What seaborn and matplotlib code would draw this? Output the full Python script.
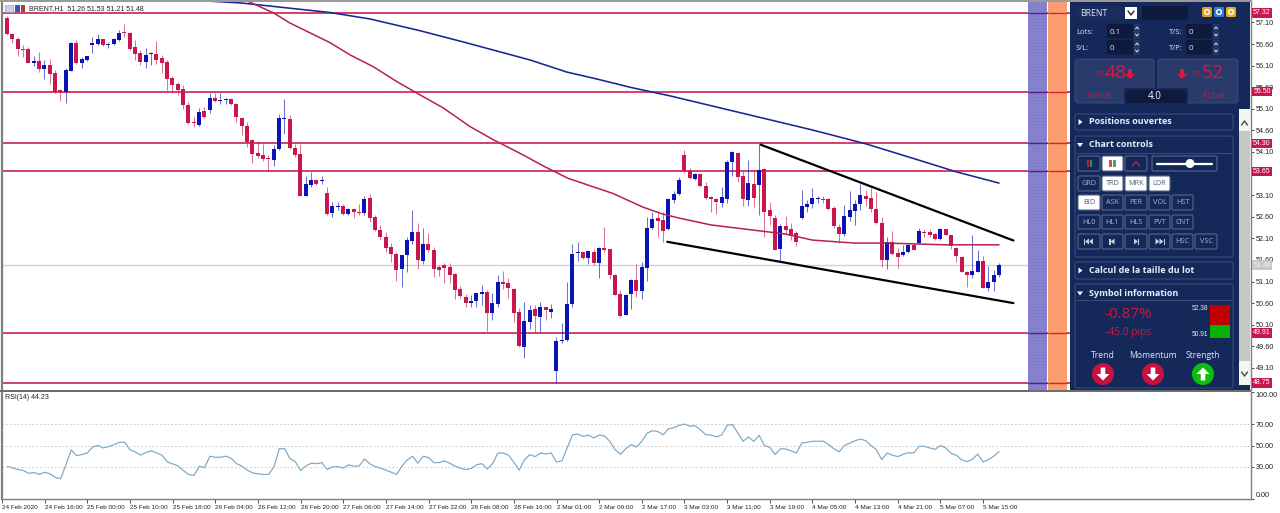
import numpy as np
import pandas as pd
import matplotlib
matplotlib.use("Agg")
import matplotlib.pyplot as plt
from matplotlib.patches import Rectangle, FancyBboxPatch, Circle, Polygon
import seaborn as sns

# ---------- data ----------
symbol_line = "BRENT,H1  51.26 51.53 51.21 51.48"
highs = [57.25,56.85,56.77,56.58,56.52,56.32,56.41,56.23,56.25,56.01,
55.57,56.04,56.65,56.69,56.29,56.33,56.77,56.83,56.72,56.64,
56.73,56.93,57.06,56.89,56.69,56.46,56.50,56.42,56.67,56.35,
56.23,55.86,55.71,55.65,55.25,54.90,55.11,55.15,55.47,55.47,
55.47,55.34,55.36,55.23,54.92,54.80,54.39,54.35,54.29,54.03,
54.26,54.98,55.33,54.96,54.29,54.29,53.55,53.63,53.47,53.54,
53.30,52.94,52.94,52.89,52.80,52.80,52.90,53.08,53.13,52.64,
52.41,52.24,52.00,51.78,51.71,52.14,52.76,52.45,52.33,52.22,
51.91,51.48,51.54,51.54,51.29,51.00,50.81,50.79,50.84,51.03,
50.90,50.83,51.25,51.34,51.17,50.96,50.48,50.62,50.56,50.56,
50.62,50.52,50.57,49.82,50.13,51.09,51.98,52.02,51.79,51.81,
51.85,51.91,52.37,51.85,51.27,50.90,50.81,51.15,51.51,51.56,
52.60,52.70,52.68,52.72,53.03,53.20,53.53,54.15,53.72,53.61,
53.61,53.41,53.07,53.03,53.28,53.92,54.12,54.09,53.65,53.92,
53.68,54.28,53.72,52.95,52.64,52.43,52.62,52.45,52.26,53.21,
52.99,53.26,53.08,53.08,53.03,52.85,52.43,52.87,53.20,52.99,
53.35,53.22,53.26,53.17,52.60,52.12,52.26,51.87,51.95,51.97,
52.00,52.35,52.32,52.32,52.22,52.35,52.32,52.18,51.91,51.68,
51.35,52.18,51.83,51.69,51.46,51.37,51.53]
lows = [56.81,56.62,56.33,56.31,56.15,56.10,55.96,55.78,55.67,55.47,
55.29,55.23,55.98,56.13,56.05,56.21,56.40,56.58,56.55,56.50,
56.58,56.66,56.77,56.46,56.23,56.11,56.05,56.11,56.13,55.92,
55.54,55.50,55.42,55.10,54.75,54.69,54.71,54.88,55.01,55.26,
55.21,55.20,55.18,54.80,54.50,54.22,53.85,53.95,53.90,53.66,
53.78,54.15,54.52,54.18,53.98,53.07,53.07,53.28,53.34,53.36,
52.64,52.59,52.76,52.64,52.64,52.56,52.64,52.64,52.49,52.27,
52.09,51.79,51.56,51.12,50.98,51.33,51.96,51.39,51.51,51.78,
51.21,51.23,51.06,51.06,50.70,50.71,50.50,50.50,50.50,50.56,
49.96,50.21,50.52,50.92,50.71,50.17,49.59,49.34,49.99,49.92,
49.94,50.22,50.25,48.74,49.67,49.73,50.52,51.58,51.63,51.51,
51.48,51.19,51.79,51.15,50.78,50.27,50.32,50.46,50.75,50.70,
51.11,52.31,52.12,52.01,52.29,52.93,53.10,53.61,53.47,53.45,
53.30,53.02,52.70,52.66,52.82,52.91,53.54,53.41,52.85,52.85,
52.83,52.64,52.14,52.41,51.82,51.56,52.20,52.06,51.93,52.54,
52.70,52.80,52.91,52.91,52.76,52.34,52.00,52.15,52.51,52.42,
52.76,52.85,52.72,52.43,51.43,51.38,51.71,51.41,51.69,51.75,
51.82,51.97,52.12,52.14,52.06,52.06,52.17,51.86,51.56,51.31,
50.98,51.19,51.31,50.94,50.88,50.89,51.21]
opens = [57.20,56.83,56.72,56.49,56.49,56.15,56.20,56.02,56.11,55.92,
55.52,55.50,55.98,56.62,56.15,56.22,56.57,56.59,56.71,56.57,
56.59,56.69,56.86,56.85,56.52,56.40,56.19,56.36,56.38,56.27,
56.18,55.82,55.67,55.55,55.19,54.79,54.72,55.06,55.07,55.34,
55.27,55.30,55.33,55.22,54.89,54.71,54.37,54.08,54.02,53.95,
53.91,54.16,54.86,54.86,54.19,54.05,53.08,53.34,53.44,53.43,
53.15,52.69,52.83,52.85,52.66,52.77,52.70,52.68,53.03,52.60,
52.29,52.13,51.89,51.74,51.39,51.71,52.04,52.24,51.58,51.97,
51.83,51.43,51.49,51.43,51.27,50.93,50.75,50.60,50.66,50.82,
50.86,50.38,50.59,51.09,51.06,50.93,50.39,49.59,50.16,50.46,
50.28,50.50,50.40,49.02,49.72,49.75,50.58,51.75,51.78,51.64,
51.78,51.54,51.88,51.85,51.26,50.80,50.32,50.80,51.14,50.88,
51.41,52.33,52.56,52.52,52.31,52.99,53.13,54.02,53.65,53.48,
53.58,53.32,53.04,53.00,52.93,53.02,53.87,54.07,53.54,52.99,
53.37,53.33,53.70,52.76,52.58,51.85,52.39,52.32,52.23,52.56,
52.83,52.90,53.00,53.00,53.00,52.81,52.36,52.20,52.60,52.73,
52.90,53.08,53.03,52.79,52.45,51.60,52.02,51.75,51.71,51.78,
51.94,51.99,52.25,52.25,52.20,52.09,52.31,52.17,51.88,51.67,
51.33,51.24,51.33,51.57,50.94,51.09,51.26]
closes = [56.83,56.71,56.49,56.46,56.17,56.21,56.02,56.11,55.91,55.49,
55.50,56.00,56.62,56.15,56.25,56.32,56.63,56.71,56.58,56.60,
56.71,56.86,56.85,56.49,56.38,56.18,56.35,56.38,56.23,56.17,
55.79,55.65,55.54,55.18,54.76,54.76,55.02,54.90,55.34,55.27,
55.30,55.33,55.21,54.90,54.70,54.34,54.06,54.01,53.93,53.93,
54.17,54.88,54.88,54.19,54.03,53.09,53.35,53.45,53.36,53.44,
52.66,52.85,52.85,52.66,52.77,52.70,52.69,53.00,52.58,52.29,
52.12,51.87,51.73,51.37,51.71,52.06,52.24,51.60,51.97,51.82,
51.40,51.37,51.42,51.26,50.91,50.76,50.60,50.64,50.83,50.86,
50.37,50.61,51.09,51.05,50.94,50.37,49.60,50.18,50.44,50.29,
50.51,50.44,50.47,49.73,49.75,50.58,51.74,51.78,51.64,51.80,
51.52,51.88,51.84,51.25,50.79,50.29,50.78,51.14,50.88,51.43,
52.34,52.55,52.51,52.28,53.01,53.13,53.45,53.65,53.49,53.59,
53.31,53.03,53.02,52.95,53.05,53.86,54.09,53.53,53.02,53.38,
53.04,53.68,52.72,52.62,51.83,52.39,52.29,52.15,52.02,52.85,
52.90,53.03,53.01,52.99,52.78,52.39,52.20,52.61,52.76,52.90,
53.10,53.02,52.78,52.45,51.60,52.02,51.74,51.67,51.78,51.94,
51.83,52.27,52.22,52.17,52.09,52.31,52.18,51.92,51.68,51.31,
51.25,51.34,51.57,50.96,51.10,51.24,51.48]
rsi = [30.6,29,27.5,26.6,24,24.7,23,25,23.5,20,19,32,46,40.5,41.5,43,48.6,50,47.7,49,
50.8,53,53,46,44,41,43.6,45,43,41,34.6,32.8,31,26.6,23,22,30.6,29.4,40,39,
39,40,38,33,30.6,27,24.4,23.5,23,23,30,47,47,37.7,35,26.6,31,33.4,33,34,
27.5,30,30.3,29,31.9,30.6,31,37.4,32.8,30.3,28.8,27,25,23,30.6,36.5,40,33.4,40,38.7,
34,34,35.6,33.4,30.6,28.8,27.5,28.5,32,33,28,33,43,43,41,34.3,27,36.8,41.5,39.6,
43,42,43,34.6,35.6,47.7,60,60.7,58.5,59.8,57,59.8,58.8,53.9,46,41.8,47,50.8,48.6,53.9,
61.6,63.8,63,60,65.6,66.6,68.8,70,68,68.4,64.7,60,59.8,58,60,68.8,69.7,61.6,53.9,58,
53.9,59.5,50,48.3,41.5,47,46.7,45,43,52.3,53,53.9,54,54,51,47,44,50,52.3,54.5,
56,54.5,50,46,36.8,43,40.9,39.6,41.8,43.3,43,49.2,49.2,47.7,46.4,50,47.7,42.7,40.9,36.5,
35,37,42,34.6,36.8,40,44.23]
blue_ma_bar = [37,44,60.6,68.1,77.4,85.5,92.4,98.1,105,110.6,116.8,124.3,151,161,171,178,186]
blue_ma = [57.60,57.55,57.33,57.18,56.91,56.65,56.42,56.23,55.95,55.79,55.60,55.40,54.61,54.29,53.91,53.64,53.38]
red_ma_bar = [45,50,53,60.6,64.3,68.6,73.1,76.9,81.8,86.8,91.1,96.8,100.5,105.2,113.6,119.3,123,126,132,140,146,151,159,165,176,186]
red_ma = [57.60,57.32,57.09,56.63,56.35,56.08,55.73,55.46,55.12,54.69,54.39,54.03,53.78,53.49,53.14,52.82,52.66,52.57,52.41,52.29,52.20,52.06,51.99,51.99,51.95,51.95]
trend_upper_bar, trend_upper = [141.3,188.7], [54.27,52.05]
trend_lower_bar, trend_lower = [123.8,188.7], [52.02,50.60]
levels = [57.32,55.50,54.30,53.65,49.91,48.75]
level_labels = ["57.32","55.50","54.30","53.65","49.91","48.75"]
bid = 51.48
price_ticks = [57.10,56.60,56.10,55.60,55.10,54.60,54.10,53.60,53.10,52.60,52.10,51.60,51.10,50.60,50.10,49.60,49.10]
price_tick_labels = ["57.10","56.60","56.10","55.60","55.10","54.60","54.10","","53.10","52.60","52.10","51.60","51.10","50.60","50.10","49.60","49.10"]
rsi_ticks = [100,70,50,30,0]
rsi_labels = ["100.00","70.00","50.00","30.00","0.00"]
rsi_title = "RSI(14) 44.23"
time_tick_bars = list(range(-1,184,8))
time_labels = ["24 Feb 2020","24 Feb 16:00","25 Feb 00:00","25 Feb 10:00","25 Feb 18:00","26 Feb 04:00",
"26 Feb 12:00","26 Feb 20:00","27 Feb 06:00","27 Feb 14:00","27 Feb 22:00","28 Feb 08:00","28 Feb 16:00",
"2 Mar 01:00","2 Mar 09:00","2 Mar 17:00","3 Mar 03:00","3 Mar 11:00","3 Mar 19:00","4 Mar 05:00",
"4 Mar 13:00","4 Mar 21:00","5 Mar 07:00","5 Mar 15:00"]

# ---------- style ----------
sns.set_theme(style="white")
plt.rcParams["font.family"] = ["Liberation Sans", "DejaVu Sans"]
RED = "#c8174a"; BLUE = "#0a14b4"; GREY = "#7f7f7f"
W, H = 1280, 513
fig = plt.figure(figsize=(W/100, H/100), dpi=100, facecolor="white")

def axes_px(x0, y0, x1, y1, **kw):
    return fig.add_axes([x0/W, 1-y1/H, (x1-x0)/W, (y1-y0)/H], **kw)

BAR = 16/3
def px2bar(px):
    return (px-7)/BAR

df = pd.DataFrame({"bar": np.arange(len(closes)), "o": opens, "h": highs, "l": lows, "c": closes, "rsi": rsi})
df["up"] = df.c > df.o

# ---------- main price pane ----------
ax = axes_px(2, 1, 1251, 390)
ax.set_xlim(px2bar(2), px2bar(1251))
ax.set_ylim(57.62-390*0.02316, 57.62-1*0.02316)
ax.hlines(levels, px2bar(2), px2bar(1070), color=RED, lw=1.15, zorder=2)
ax.hlines(bid, px2bar(2), px2bar(1028), color="#d2d2d2", lw=1.0, zorder=1)
ax.axvspan(px2bar(1028), px2bar(1046.5), color="#807dcc", lw=0, zorder=3)
ax.axvspan(px2bar(1048), px2bar(1067), color="#fb9a6c", lw=0, zorder=3)
ax.hlines(levels, px2bar(1028), px2bar(1046.5), color="#5a1c8c", lw=1.0, zorder=4)
ax.hlines(levels, px2bar(1048), px2bar(1067), color="#d8232a", lw=1.0, zorder=4)
stripes = np.arange(ax.get_ylim()[0], ax.get_ylim()[1], 3*0.02316)
ax.hlines(stripes, px2bar(1028), px2bar(1046.5), color="#9a98d8", lw=0.35, zorder=3.5)
ax.hlines(stripes, px2bar(1048), px2bar(1067), color="#fcb08c", lw=0.35, zorder=3.5)

for up, col in [(True, BLUE), (False, RED)]:
    d = df[df.up == up]
    ax.vlines(d.bar, d.l, d.h, color=col, lw=0.75, alpha=0.6, zorder=5)
    bottom = d[["o", "c"]].min(axis=1)
    height = (d.o - d.c).abs().clip(lower=0.03)
    ax.bar(d.bar, height, bottom=bottom, width=0.7, color=col, lw=0, zorder=6)

sns.lineplot(x=blue_ma_bar, y=blue_ma, ax=ax, color="#1a2596", lw=1.15, zorder=7, errorbar=None)
sns.lineplot(x=red_ma_bar, y=red_ma, ax=ax, color="#b82050", lw=1.1, zorder=7, errorbar=None)
sns.lineplot(x=trend_upper_bar, y=trend_upper, ax=ax, color="black", lw=1.6, zorder=8, errorbar=None)
sns.lineplot(x=trend_lower_bar, y=trend_lower, ax=ax, color="black", lw=1.6, zorder=8, errorbar=None)
ax.set_xlabel(""); ax.set_ylabel("")
ax.set_xticks([])
ax.yaxis.tick_right()
ax.set_yticks(price_ticks)
ax.set_yticklabels(price_tick_labels, fontsize=5.2, color="#222222")
ax.tick_params(axis="y", length=2.5, width=0.6, pad=1, color="#333333", right=True)
for s in ax.spines.values():
    s.set_visible(False)
ax.spines["right"].set_visible(True); ax.spines["right"].set_color(GREY); ax.spines["right"].set_linewidth(1.0)
ax.spines["left"].set_visible(True); ax.spines["left"].set_color(GREY); ax.spines["left"].set_linewidth(1.6)

# ---------- RSI pane ----------
ax2 = axes_px(2, 392, 1251, 499)
ax2.set_xlim(px2bar(2), px2bar(1251))
ax2.set_ylim(0, 100)
for lev in [30, 50, 70]:
    ax2.axhline(lev, color="#c6c6c6", lw=0.6, ls=(0, (2, 2.5)), zorder=1)
sns.lineplot(data=df, x="bar", y="rsi", ax=ax2, color="#7ba7c4", lw=0.85, zorder=3, errorbar=None)
ax2.set_xlabel(""); ax2.set_ylabel("")
ax2.yaxis.tick_right()
ax2.set_yticks(rsi_ticks)
ax2.set_yticklabels(rsi_labels, fontsize=5.2, color="#222222")
labs = ax2.get_yticklabels()
labs[0].set_va("top"); labs[-1].set_va("bottom")
ax2.tick_params(axis="y", length=2.5, width=0.6, pad=1, color="#333333", right=True)
ax2.set_xticks(time_tick_bars)
ax2.set_xticklabels(time_labels, fontsize=4.6, color="#222222", ha="left")
ax2.tick_params(axis="x", length=3, width=0.6, pad=1, color="#333333", bottom=True)
for s in ax2.spines.values():
    s.set_visible(False)
for name, lw in [("right", 1.0), ("left", 1.6), ("bottom", 1.0)]:
    ax2.spines[name].set_visible(True); ax2.spines[name].set_color(GREY); ax2.spines[name].set_linewidth(lw)
ax2.text(3/1249, 0.945, rsi_title, transform=ax2.transAxes, fontsize=5.0, va="center", color="#222222")

# ---------- overlay in pixel space: header, boxes, side panel ----------
ov = fig.add_axes([0, 0, 1, 1], zorder=20)
ov.set_xlim(0, W); ov.set_ylim(H, 0); ov.axis("off"); ov.patch.set_alpha(0)
def rect(x0, y0, x1, y1, fc, ec="none", lw=0, z=1):
    ov.add_patch(Rectangle((x0, y0), x1-x0, y1-y0, fc=fc, ec=ec, lw=lw, zorder=z))
def rbox(x0, y0, x1, y1, fc, ec="#3c4d7e", lw=0.8, z=2, r=1.5):
    ov.add_patch(FancyBboxPatch((x0+r, y0+r), x1-x0-2*r, y1-y0-2*r, boxstyle=f"round,pad={r}", fc=fc, ec=ec, lw=lw, zorder=z))
def txt(x, y, s, size=6, color="#dfe6f5", ha="left", weight="normal", fam="Open Sans", z=5):
    ov.text(x, y, s, fontsize=size, color=color, ha=ha, va="center", fontweight=weight, family=fam, zorder=z)
def arrow(cx, cy, s, color, up=False, z=6):
    d = -1 if up else 1
    pts = [(-.35,-1),(.35,-1),(.35,0),(1,0),(0,1),(-1,0),(-.35,0)]
    ov.add_patch(Polygon([(cx+px*s, cy+d*py*s) for px, py in pts], fc=color, ec="none", zorder=z))

# separators / chrome
rect(0, 0, 1252, 1.5, "#9a9a9a")
rect(0, 390, 1251, 392, "#6e6e6e")

# header of the chart
rect(5, 5, 13, 12, "#c8cfe6", "#8090c0", 0.4)
rect(15, 5, 20, 12, "#3a56b0")
rect(21, 5, 25, 12, "#b04040")
ov.text(29, 8.5, symbol_line, fontsize=5.0, color="#222222", va="center", zorder=5)

# price boxes on the right axis
for lev, lab in zip(levels, level_labels):
    y = (57.62-lev)/0.02316
    rect(1252, y-4.6, 1272, y+4.6, RED, z=3)
    ov.text(1262, y, lab, fontsize=5.0, color="white", ha="center", va="center", zorder=4)
yb = (57.62-bid)/0.02316
rect(1252, yb-4.8, 1272, yb+4.8, "#c8c8c8", z=3)
ov.text(1262, yb, "51.48", fontsize=5.0, color="#f4f4f4", ha="center", va="center", zorder=4)

# side panel
NAVY = "#15285a"; DARK = "#0e1a3e"; BTN = "#2a3a6a"; EDGE = "#3f5080"
rect(1070, 2, 1250, 389.5, NAVY)
rect(1077, 6, 1124, 19, "#1a2c5e")
txt(1080, 13, "BRENT", 6.2)
rect(1125, 7, 1137, 19, "white", z=3)
ov.plot([1128, 1131, 1134], [11, 15, 11], color="#222222", lw=1.0, zorder=4)
rbox(1142, 6, 1188, 20, DARK, "none", 0)
for cx, col in [(1207, "#d9a21e"), (1219, "#2f7fd8"), (1231, "#e4ae1e")]:
    rbox(cx-5, 7, cx+5, 17, col, "none", 0)
    ov.add_patch(Circle((cx, 12), 2.4, fc="none", ec="white", lw=1.0, zorder=4))

for (lx, ly, lab, bx, val) in [(1076, 32, "Lots:", 1107, "0.1"), (1076, 48, "S/L:", 1107, "0"),
                               (1169, 32, "T/S:", 1186, "0"), (1169, 48, "T/P:", 1186, "0")]:
    txt(lx, ly, lab, 5.6)
    rbox(bx, ly-8, bx+26, ly+6.5, DARK, "none", 0)
    txt(bx+3, ly, val, 5.8)
    rect(bx+27, ly-8, bx+33, ly+6.5, "#233766", z=3)
    ov.plot([bx+28.5, bx+30, bx+31.5], [ly-3, ly-5, ly-3], color="white", lw=0.6, zorder=4)
    ov.plot([bx+28.5, bx+30, bx+31.5], [ly+2, ly+4, ly+2], color="white", lw=0.6, zorder=4)

rbox(1075, 59, 1154, 103, BTN, EDGE, 0.6, r=3)
rbox(1158, 59, 1238, 103, BTN, EDGE, 0.6, r=3)
txt(1095, 75, "51.", 6.0, "#cf1b3f")
txt(1105, 73, "48", 14, "#cf1b3f")
arrow(1130, 74, 5, "#e0183c")
arrow(1182, 74, 5, "#e0183c")
txt(1191, 75, "51.", 6.0, "#cf1b3f")
txt(1202, 73, "52", 14, "#cf1b3f")
txt(1087, 95, "Vente", 6.4, "#c01a3e")
txt(1202, 95, "Achat", 6.4, "#c01a3e")
rect(1124, 88, 1188, 104, NAVY, z=3)
rbox(1126, 90, 1186, 103, DARK, "none", 0, z=4)
txt(1155, 96.5, "4.0", 7.0, "white", ha="center")

# section boxes
rbox(1075, 114, 1233, 130, NAVY, EDGE, 0.7, r=2)
rbox(1075, 136, 1233, 257, NAVY, EDGE, 0.7, r=2)
rbox(1075, 262, 1233, 279, NAVY, EDGE, 0.7, r=2)
rbox(1075, 284, 1233, 388, NAVY, EDGE, 0.7, r=2)
ov.plot([1076, 1232], [153, 153], color=EDGE, lw=0.6, zorder=3)
ov.plot([1076, 1232], [300, 300], color=EDGE, lw=0.6, zorder=3)
def tri(x, y, right=True):
    pts = [(x-1.5, y-3), (x-1.5, y+3), (x+2.5, y)] if right else [(x-3, y-1.5), (x+3, y-1.5), (x, y+2.5)]
    ov.add_patch(Polygon(pts, fc="white", ec="none", zorder=5))
for y, lab, r in [(122, "Positions ouvertes", True), (144.5, "Chart controls", False),
                  (270.5, "Calcul de la taille du lot", True), (293, "Symbol information", False)]:
    tri(1080, y, r)
    txt(1089, y, lab, 6.5, "#e8edf8", weight="bold")

def button(x0, x1, y0, y1, lab="", white=False):
    rbox(x0, y0, x1, y1, "white" if white else NAVY, "#56668f", 0.8, z=3)
    if lab:
        txt((x0+x1)/2, (y0+y1)/2+0.2, lab, 5.2, "#4a5a7a" if white else "#a9b4cf", ha="center")
xs = [(1078, 1100), (1102, 1123), (1125, 1147), (1149, 1170), (1172, 1193), (1195, 1217)]
button(*xs[0], 156, 171); button(*xs[1], 156, 171, white=True); button(*xs[2], 156, 171)
rect(1087, 160, 1088.5, 167, "#c02040", z=5); rect(1090, 160, 1091.5, 167, "#2f8f6a", z=5)
rect(1109, 160, 1111.5, 167, "#d05050", z=5); rect(1113, 160, 1115.5, 167, "#50a070", z=5)
ov.plot([1132, 1136, 1140], [166, 162, 166], color="#c02040", lw=1.0, zorder=5)
button(1152, 1217, 156, 171)
ov.plot([1157, 1212], [163.5, 163.5], color="white", lw=1.6, zorder=5)
ov.add_patch(Circle((1190, 163.5), 4.5, fc="white", ec="none", zorder=6))
button(*xs[0], 176, 191, "GRD")
for xr, lab in zip(xs[1:4], ["TRD", "MRK", "LDR"]):
    button(*xr, 176, 191, lab, white=True)
button(*xs[0], 195, 210, "BID", white=True)
for xr, lab in zip(xs[1:5], ["ASK", "PER", "VOL", "HST"]):
    button(*xr, 195, 210, lab)
for xr, lab in zip(xs[:5], ["HL0", "HL1", "HLS", "PVT", "CNT"]):
    button(*xr, 215, 229, lab)
for xr, lab in zip(xs, ["", "", "", "", "HSC", "VSC"]):
    button(*xr, 234, 249, lab)
for xr, dirn, n in zip(xs[:4], [-1, -1, 1, 1], [2, 1, 1, 2]):
    c = (xr[0]+xr[1])/2
    for k in range(n):
        off = (k-(n-1)/2)*4
        ov.add_patch(Polygon([(c+off-dirn*2, 238.5), (c+off-dirn*2, 244.5), (c+off+dirn*2, 241.5)], fc="#c6cfe2", ec="none", zorder=5))
    bx = c - dirn*(-2.6-(n-1)*2)
    rect(bx-0.6, 238.5, bx+0.6, 244.5, "#c6cfe2", z=5)

# symbol information
txt(1128, 315, "-0.87%", 11, "#c9193f", ha="center")
txt(1128, 333, "-45.0 pips", 7.4, "#c9193f", ha="center")
txt(1208, 308, "52.38", 4.8, "#dfe6f5", ha="right", fam="Liberation Sans")
txt(1208, 334, "50.91", 4.8, "#dfe6f5", ha="right", fam="Liberation Sans")
rect(1210, 305, 1230, 325, "#c00000", z=3)
rect(1210, 325, 1230, 338, "#05b305", z=3)
for cx, lab, col, up in [(1103, "Trend", "#c8103f", False), (1153, "Momentum", "#c8103f", False), (1203, "Strength", "#0cbf0c", True)]:
    txt(cx, 356, lab, 6.2, "#dfe6f5", ha="center")
    ov.add_patch(Circle((cx, 374), 11, fc=col, ec="none", zorder=4))
    arrow(cx, 374, 6.5, "white", up=up)

# scrollbar
rect(1239, 109, 1250, 385, "#c6c6c6", z=3)
rect(1239, 109, 1250, 131, "#f4f4f4", z=4)
rect(1239, 361, 1250, 385, "#f4f4f4", z=4)
ov.plot([1241.5, 1244.5, 1247.5], [125, 121, 125], color="#555555", lw=1.1, zorder=5)
ov.plot([1241.5, 1244.5, 1247.5], [372, 376, 372], color="#555555", lw=1.1, zorder=5)

fig.savefig("out.png", dpi=100, facecolor="white")
